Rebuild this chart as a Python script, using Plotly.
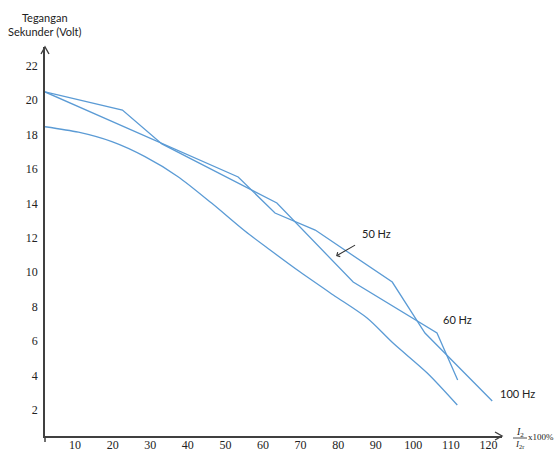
import plotly.graph_objects as go

# Secondary voltage vs. load current ratio (I2/I2r x 100%)
x_a = [2.0, 22.6, 33.1, 63.7, 84.0, 106.3, 111.8]
v_a = [20.47, 19.42, 17.45, 14.02, 9.43, 6.47, 3.74]

x_b = [2.0, 53.4, 63.2, 73.9, 94.4, 103.1, 121.0]
v_b = [20.47, 15.53, 13.44, 12.45, 9.43, 6.47, 2.52]

x_c = [2.0, 10.9, 19.8, 28.6, 37.4, 46.4, 55.2,
       61.9, 69.9, 78.7, 87.7, 94.6, 103.7, 111.7]
v_c = [18.45, 18.13, 17.58, 16.71, 15.55, 14.00, 12.39,
       11.29, 10.01, 8.68, 7.34, 5.89, 4.15, 2.29]

x_ticks = [10, 20, 30, 40, 50, 60, 70, 80, 90, 100, 110, 120]
y_ticks = [2, 4, 6, 8, 10, 12, 14, 16, 18, 20, 22]

LINE = "#5B9BD5"
AXIS = "#404040"
TXT_FONT = dict(family="Lato, Open Sans, sans-serif", size=11, color="#222")
SERIF = "Liberation Serif, serif"

W, H = 555, 451
ML, MR, MT, MB = 45, 53, 47, 15
PW, PH = W - ML - MR, H - MT - MB


def px_x(d):
    """pixel offset -> paper x units"""
    return d / PW


def px_y(d):
    """pixel offset -> paper y units"""
    return d / PH


fig = go.Figure()
fig.add_trace(go.Scatter(x=x_a, y=v_a, mode="lines",
                         line=dict(color=LINE, width=1.3)))
fig.add_trace(go.Scatter(x=x_b, y=v_b, mode="lines",
                         line=dict(color=LINE, width=1.3)))
fig.add_trace(go.Scatter(x=x_c, y=v_c, mode="lines",
                         line=dict(color=LINE, width=1.3, shape="spline",
                                   smoothing=0.8)))

annotations = [
    # y-axis title
    dict(xref="paper", yref="paper", x=0, y=1.058, xanchor="center",
         yanchor="middle", showarrow=False, align="center",
         text="Tegangan<br>Sekunder (Volt)", font=TXT_FONT),
    # x-axis title (fraction)
    dict(xref="paper", yref="paper", x=1.039, y=0.010, xanchor="center",
         yanchor="middle", showarrow=False,
         text="<i>I</i><sub>2</sub>",
         font=dict(family=SERIF, size=10, color="#222")),
    dict(xref="paper", yref="paper", x=1.039, y=-0.022, xanchor="center",
         yanchor="middle", showarrow=False,
         text="<i>I</i><sub>2r</sub>",
         font=dict(family=SERIF, size=9, color="#222")),
    dict(xref="paper", yref="paper", x=1.053, y=-0.002, xanchor="left",
         yanchor="middle", showarrow=False, text="x100%",
         font=dict(family=SERIF, size=9, color="#222")),
    # curve labels
    dict(x=79.45, y=10.94, ax=40, ay=-23, text="50 Hz", showarrow=True,
         borderpad=6, arrowhead=4, arrowsize=0.9, arrowwidth=1.1,
         arrowcolor="#333", font=TXT_FONT),
    dict(x=111.7, y=7.28, xanchor="center", yanchor="middle",
         text="60 Hz", showarrow=False, font=TXT_FONT),
    dict(xref="paper", yref="paper", x=1.033, y=0.108, xanchor="center",
         yanchor="middle", text="100 Hz", showarrow=False, font=TXT_FONT),
]

shapes = [
    # short extension of the vertical axis below the origin
    dict(type="line", xref="paper", yref="paper", x0=0, x1=0, y0=0,
         y1=-px_y(6), line=dict(color=AXIS, width=1.5)),
    # arrowhead at the top of the vertical axis
    dict(type="path", xref="paper", yref="paper",
         path=f"M {-px_x(4)},{1 - px_y(7)} L 0,1 L {px_x(4)},{1 - px_y(7)}",
         line=dict(color=AXIS, width=1.4)),
    # arrowhead at the end of the horizontal axis
    dict(type="path", xref="paper", yref="paper",
         path=f"M {1 - px_x(7)},{px_y(4)} L 1,0 L {1 - px_x(7)},{-px_y(4)}",
         line=dict(color=AXIS, width=1.4)),
    # fraction bar of the x-axis title
    dict(type="line", xref="paper", yref="paper",
         x0=px_x(513 - ML), x1=px_x(527 - ML), y0=-px_y(2), y1=-px_y(2),
         line=dict(color="#222", width=0.8)),
]

fig.update_layout(
    width=W, height=H,
    margin=dict(l=ML, r=MR, t=MT, b=MB, autoexpand=False),
    paper_bgcolor="white", plot_bgcolor="white",
    showlegend=False,
    annotations=annotations,
    shapes=shapes,
    xaxis=dict(range=[2.0, 123.6], tickvals=x_ticks, showgrid=False,
               zeroline=False, showline=True, linecolor=AXIS, linewidth=1.5,
               ticks="", ticklabelstandoff=-3, automargin=False,
               tickfont=dict(family=SERIF, size=12, color="#222")),
    yaxis=dict(range=[0.49, 23.08], tickvals=y_ticks, showgrid=False,
               zeroline=False, showline=True, linecolor=AXIS, linewidth=1.5,
               ticks="", ticklabelstandoff=3, automargin=False,
               tickfont=dict(family=SERIF, size=12, color="#222")),
)

fig.write_html("out.html")
